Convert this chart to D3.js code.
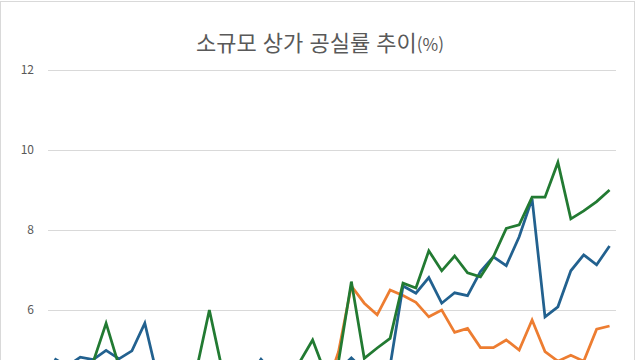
<!DOCTYPE html>
<html lang="ko">
<head>
  <meta charset="utf-8" />
  <title>소규모 상가 공실률 추이</title>
  <script type="text/javascript" src="https://cdn.jsdelivr.net/npm/d3@7"></script>
  <style>
    body { margin: 0; background: white; }
    text { font-family: "Noto Sans CJK KR", "Noto Sans", sans-serif; }
  </style>
</head>
<body>

<script type="text/javascript">

// quarters, 2013 Q1 .. 2023 Q4 (axis itself falls below the visible area)
var quarters = [
  "13.1Q", "13.2Q", "13.3Q", "13.4Q", "14.1Q", "14.2Q", "14.3Q", "14.4Q",
  "15.1Q", "15.2Q", "15.3Q", "15.4Q", "16.1Q", "16.2Q", "16.3Q", "16.4Q",
  "17.1Q", "17.2Q", "17.3Q", "17.4Q", "18.1Q", "18.2Q", "18.3Q", "18.4Q",
  "19.1Q", "19.2Q", "19.3Q", "19.4Q", "20.1Q", "20.2Q", "20.3Q", "20.4Q",
  "21.1Q", "21.2Q", "21.3Q", "21.4Q", "22.1Q", "22.2Q", "22.3Q", "22.4Q",
  "23.1Q", "23.2Q", "23.3Q", "23.4Q"
];

var orangeValues = [
  4.1, 4.0, 4.2, 4.1, 4.3, 4.2, 4.0, 4.1, 4.2, 4.3, 4.1, 4.0,
  4.2, 4.1, 4.0, 4.2, 4.3, 4.1, 4.2, 4.0, 4.1, 4.0, 4.95, 6.6,
  6.17, 5.88, 6.5, 6.36, 6.19, 5.83, 6.0, 5.44, 5.54, 5.06, 5.06, 5.25,
  5.0, 5.75, 4.96, 4.72, 4.87, 4.72, 5.52, 5.6
];

var blueValues = [
  4.78, 4.6, 4.82, 4.76, 4.99, 4.78, 4.98, 5.67, 4.3, 4.2, 4.3, 4.4,
  4.5, 4.3, 4.2, 4.3, 4.77, 4.4, 4.3, 4.5, 4.6, 4.4, 4.5, 4.8,
  4.5, 4.4, 4.6, 6.6, 6.42, 6.81, 6.17, 6.43, 6.36, 6.96, 7.33, 7.11,
  7.83, 8.78, 5.83, 6.08, 6.98, 7.38, 7.13, 7.6
];

var greenValues = [
  4.5, 4.4, 4.6, 4.7, 5.67, 4.6, 4.4, 4.5, 4.2, 4.3, 4.4, 4.5,
  6.0, 4.5, 4.3, 4.2, 4.4, 4.3, 4.5, 4.7, 5.25, 4.4, 4.7, 6.71,
  4.79, 5.05, 5.29, 6.67, 6.55, 7.48, 6.98, 7.35, 6.93, 6.83, 7.33, 8.04,
  8.13, 8.82, 8.82, 9.69, 8.28, 8.48, 8.71, 9.0
];

// only these ticks fall inside the visible picture
var yTicks = [6, 8, 10, 12];

var series = [
  {name: "orange", values: orangeValues, color: "#ed7d31"},
  {name: "blue",   values: blueValues,   color: "#22618f"},
  {name: "green",  values: greenValues,  color: "#227a32"}
];

var w = 640;
var h = 360;
var plot = {left: 48, right: 616, top: 70, bottom: 550};

var xScale = d3.scalePoint()
               .domain(quarters)
               .range([plot.left, plot.right])
               .padding(0.5);
var yScale = d3.scaleLinear()
               .domain([0, 12])
               .range([plot.bottom, plot.top]);

var svg = d3.select("body")
            .append("svg")
            .attr("width", w)
            .attr("height", h);

svg.append("rect")
   .attr("width", w)
   .attr("height", h)
   .attr("fill", "white");

// chart frame
svg.append("rect")
   .attr("x", 0.5)
   .attr("y", 1.5)
   .attr("width", 634)
   .attr("height", 420)
   .attr("fill", "none")
   .attr("stroke", "#d9d9d9");

// title
var title = svg.append("text")
               .attr("x", 320)
               .attr("y", 51)
               .attr("text-anchor", "middle")
               .attr("fill", "#595959")
               .style("font-size", "22px");
title.append("tspan").text("소규모 상가 공실률 추이");
title.append("tspan").style("font-size", "17px").text("(%)");

// y axis: gridlines + labels, no domain line
var yAxis = d3.axisLeft(yScale)
              .tickValues(yTicks)
              .tickSize(-(plot.right - plot.left))
              .tickPadding(14);
var gy = svg.append("g")
            .attr("class", "y_axis")
            .attr("transform", "translate(" + plot.left + ",0)")
            .call(yAxis);
gy.select(".domain").remove();
gy.selectAll("line")
  .attr("stroke", "#d9d9d9");
gy.selectAll("text")
  .attr("fill", "#595959")
  .style("font-size", "12px");

var line = d3.line()
             .x(function(d, i) { return xScale(quarters[i]); })
             .y(function(d) { return yScale(d); });

svg.selectAll("path.series")
   .data(series)
   .enter()
   .append("path")
   .attr("class", "series")
   .attr("d", function(d) { return line(d.values); })
   .attr("fill", "none")
   .attr("stroke", function(d) { return d.color; })
   .attr("stroke-width", 2.75)
   .attr("stroke-linejoin", "miter");

</script>

</body>
</html>
